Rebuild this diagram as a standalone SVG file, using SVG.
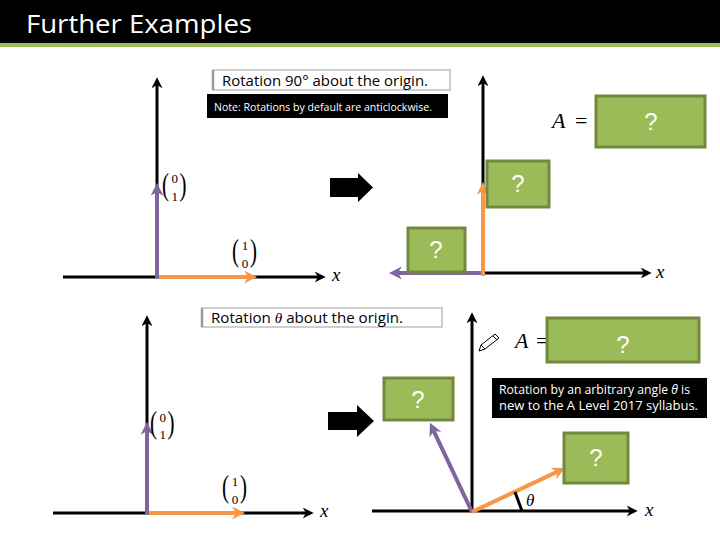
<svg xmlns="http://www.w3.org/2000/svg" width="720" height="540" viewBox="0 0 720 540">
<style>
.ax{stroke:#000;stroke-width:3;fill:none}
.pv{stroke:#8064A2;stroke-width:4;fill:none}
.ov{stroke:#F79646;stroke-width:4;fill:none}
.gb{fill:#9BBB59;stroke:#71893F;stroke-width:3}
.q{font-family:"Liberation Sans",Arial,sans-serif;font-size:24px;fill:#fff;text-anchor:middle}
.tb{fill:#fff;stroke:#BFBFBF;stroke-width:1.5}
.tt{font-family:"Open Sans","Liberation Sans",sans-serif;font-size:14px;fill:#000}
.mi{font-family:"Liberation Serif","Times New Roman",serif;font-style:italic;fill:#000}
.par{font-family:"Liberation Serif","Times New Roman",serif;font-size:32px;fill:#000}
.dg{font-family:"Liberation Serif","Times New Roman",serif;font-size:13px;fill:#000;text-anchor:middle}
.nt{font-family:"Open Sans","Liberation Sans",sans-serif;fill:#fff}
</style>
<defs>
<marker id="ah" viewBox="0 0 10 10" markerWidth="11" markerHeight="11" refX="3" refY="5" orient="auto" markerUnits="userSpaceOnUse"><path d="M0,0 L10,5 L0,10 L3,5 Z" fill="#000"/></marker>
<marker id="ph" viewBox="0 0 10 10" markerWidth="13" markerHeight="13" refX="3" refY="5" orient="auto" markerUnits="userSpaceOnUse"><path d="M0,0 L10,5 L0,10 L3,5 Z" fill="#8064A2"/></marker>
<marker id="oh" viewBox="0 0 10 10" markerWidth="13" markerHeight="13" refX="3" refY="5" orient="auto" markerUnits="userSpaceOnUse"><path d="M0,0 L10,5 L0,10 L3,5 Z" fill="#F79646"/></marker>
</defs>

<g id="header">
<rect x="0" y="0" width="720" height="43" fill="#000"/>
<rect x="0" y="43" width="720" height="4" fill="#9BBB59"/>
<text x="26" y="33" font-family="Open Sans, Liberation Sans, sans-serif" font-size="25" fill="#fff" textLength="226" lengthAdjust="spacingAndGlyphs">Further Examples</text>
</g>

<g id="connectors">
<line class="ax" x1="157" y1="277" x2="157" y2="85" marker-end="url(#ah)"/>
<line class="ax" x1="63" y1="277" x2="318" y2="277" marker-end="url(#ah)"/>
<line class="pv" x1="157" y1="278" x2="157" y2="192" marker-end="url(#ph)"/>
<line class="ov" x1="159" y1="277" x2="248" y2="277" marker-end="url(#oh)"/>
<line class="ax" x1="483" y1="273" x2="483" y2="83" marker-end="url(#ah)"/>
<line class="ax" x1="440" y1="273" x2="644" y2="273" marker-end="url(#ah)"/>
<line class="pv" x1="481" y1="273" x2="398" y2="273" marker-end="url(#ph)"/>
<line class="ov" x1="483" y1="276" x2="483" y2="191" marker-end="url(#oh)"/>
<line class="ax" x1="147" y1="513" x2="147" y2="323" marker-end="url(#ah)"/>
<line class="ax" x1="53" y1="513" x2="306" y2="513" marker-end="url(#ah)"/>
<line class="pv" x1="147" y1="514" x2="147" y2="431" marker-end="url(#ph)"/>
<line class="ov" x1="149" y1="513" x2="236" y2="513" marker-end="url(#oh)"/>
<line class="ax" x1="472" y1="511" x2="472" y2="320" marker-end="url(#ah)"/>
<line class="ax" x1="372" y1="511" x2="630" y2="511" marker-end="url(#ah)"/>
<line class="pv" x1="472" y1="512" x2="433.8" y2="431.1" marker-end="url(#ph)"/>
<line class="ov" x1="472" y1="512" x2="556.9" y2="471.9" marker-end="url(#oh)"/>
<line x1="515" y1="492" x2="522" y2="511" stroke="#000" stroke-width="3"/>
<polygon points="330,178 358,178 358,173 373,187.5 358,202 358,197 330,197" fill="#000"/>
<polygon points="328,412 357,412 357,405 374,421 357,437 357,430 328,430" fill="#000"/>
</g>

<g id="title-90">
<rect class="tb" x="213" y="70" width="237" height="20"/>
<line x1="213" y1="70" x2="213" y2="90" stroke="#999" stroke-width="2.5"/>
<text class="tt" x="222" y="86" textLength="206" lengthAdjust="spacingAndGlyphs">Rotation 90° about the origin.</text>
</g>
<g id="note-1">
<rect x="207" y="94" width="241" height="24" fill="#000"/>
<text class="nt" x="214" y="111" font-size="10.5" textLength="218" lengthAdjust="spacingAndGlyphs">Note: Rotations by default are anticlockwise.</text>
</g>

<g id="title-theta">
<rect class="tb" x="202" y="308" width="240" height="19"/>
<line x1="202" y1="308" x2="202" y2="327" stroke="#999" stroke-width="2.5"/>
<text class="tt" x="211" y="323" textLength="192" lengthAdjust="spacingAndGlyphs">Rotation <tspan font-family="Liberation Serif, serif" font-style="italic">θ</tspan> about the origin.</text>
</g>

<g id="vec-tl-01" transform="translate(162,172)">
<text class="par" x="0" y="23" textLength="7" lengthAdjust="spacingAndGlyphs">(</text><text class="par" x="17.5" y="23" textLength="7" lengthAdjust="spacingAndGlyphs">)</text>
<text class="dg" x="12.8" y="11">0</text><text class="dg" x="12.8" y="29">1</text>
</g>
<g id="vec-tl-10" transform="translate(232,238)">
<text class="par" x="0" y="23" textLength="7" lengthAdjust="spacingAndGlyphs">(</text><text class="par" x="18" y="23" textLength="7" lengthAdjust="spacingAndGlyphs">)</text>
<text class="dg" x="13" y="12">1</text><text class="dg" x="13" y="30">0</text>
</g>
<g id="vec-bl-01" transform="translate(150,410)">
<text class="par" x="0" y="23" textLength="7" lengthAdjust="spacingAndGlyphs">(</text><text class="par" x="17.5" y="23" textLength="7" lengthAdjust="spacingAndGlyphs">)</text>
<text class="dg" x="12.8" y="12">0</text><text class="dg" x="12.8" y="29">1</text>
</g>
<g id="vec-bl-10" transform="translate(222,474)">
<text class="par" x="0" y="23" textLength="7" lengthAdjust="spacingAndGlyphs">(</text><text class="par" x="18" y="23" textLength="7" lengthAdjust="spacingAndGlyphs">)</text>
<text class="dg" x="13" y="12">1</text><text class="dg" x="13" y="30">0</text>
</g>

<g id="axis-labels">
<text class="mi" x="332" y="281" font-size="19">x</text>
<text class="mi" x="656" y="278" font-size="19">x</text>
<text class="mi" x="320" y="517" font-size="19">x</text>
<text class="mi" x="645" y="516" font-size="19">x</text>
<text class="mi" x="526" y="506" font-size="17">θ</text>
</g>

<g id="A-top">
<text class="mi" x="552" y="128" font-size="22">A</text>
<text x="575" y="128" font-family="Liberation Serif, serif" font-size="22">=</text>
</g>
<g id="box-A-top"><rect class="gb" x="596" y="96" width="109" height="51"/><text class="q" x="651" y="130">?</text></g>
<g id="box-y-top"><rect class="gb" x="487" y="161" width="62" height="46"/><text class="q" x="518" y="192">?</text></g>
<g id="box-x-top"><rect class="gb" x="408" y="228" width="57" height="44"/><text class="q" x="436" y="258">?</text></g>

<g id="pencil" fill="none" stroke="#000" stroke-width="1">
<path d="M479,351 L481,345 L495,334 L499,338 L485,349 Z"/>
<line x1="481" y1="345" x2="485" y2="349"/>
<line x1="493" y1="336" x2="497" y2="340"/>
</g>
<g id="A-bottom">
<text class="mi" x="515" y="348" font-size="22">A</text>
<text x="536" y="348" font-family="Liberation Serif, serif" font-size="22">=</text>
</g>
<g id="box-A-bottom"><rect class="gb" x="547" y="318" width="152" height="44"/><text class="q" x="623" y="353">?</text></g>

<g id="note-2">
<rect x="492" y="378" width="215" height="40" fill="#000"/>
<text class="nt" x="499" y="394" font-size="12" textLength="191" lengthAdjust="spacingAndGlyphs">Rotation by an arbitrary angle <tspan font-style="italic">θ</tspan> is</text>
<text class="nt" x="499" y="410" font-size="12" textLength="199" lengthAdjust="spacingAndGlyphs">new to the A Level 2017 syllabus.</text>
</g>

<g id="box-purple-bottom"><rect class="gb" x="384" y="378" width="69" height="42"/><text class="q" x="418" y="408">?</text></g>
<g id="box-orange-bottom"><rect class="gb" x="564" y="433" width="64" height="50"/><text class="q" x="596" y="466">?</text></g>
</svg>
